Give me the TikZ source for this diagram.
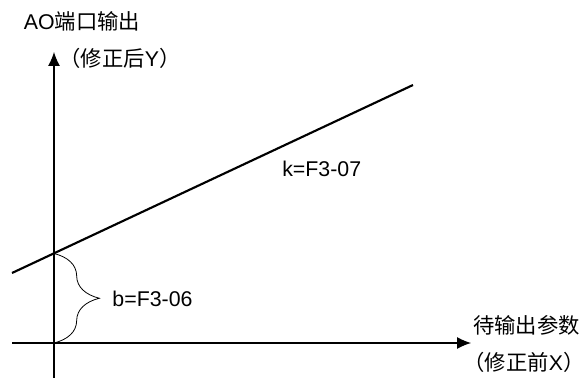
\documentclass[tikz,border=0pt]{standalone}
\usepackage{fontspec}
\setmainfont{Liberation Sans}
\newfontfamily\cjk{Noto Sans CJK SC}
\usepackage{tikz}
\usetikzlibrary{arrows.meta,positioning,calc,decorations.pathreplacing}
\newcommand{\zh}[1]{{\cjk #1}}

\begin{document}
\begin{tikzpicture}[x=0.75pt,y=-0.75pt,every node/.style={font=\fontsize{16}{19}\selectfont,inner sep=0pt}]
  \useasboundingbox (0,0) rectangle (586,378);
  % axes
  \coordinate (O) at (54,343);
  \coordinate (ytop) at (54,52);
  \coordinate (ybot) at (54,378);
  \coordinate (xleft) at (12,343);
  \coordinate (xright) at (471,343);
  \draw[line width=0.8pt,-{Latex[length=10.5pt,width=9pt]}] (ybot) -- (ytop);
  \draw[line width=0.8pt,-{Latex[length=10.5pt,width=9pt]}] (xleft) -- (xright);
  % correction line
  \coordinate (A) at (12,273);
  \coordinate (B) at (413,85);
  \coordinate (b0) at (54,253.5);
  \draw[line width=1.6pt] (A) -- (B);
  \draw[line width=0.6pt,decorate,decoration={brace,amplitude=34pt}] (b0) -- (O);
  % labels
  \node (yname) at (82,21) {AO\zh{端口输出}};
  \node (yunit) at (120,58) {\zh{（修正后}Y\zh{）}};
  \node (xname) at (526.5,325) {\zh{待输出参数}};
  \node (xunit) at (524,362) {\zh{（修正前}X\zh{）}};
  \node (k) at (321.7,169) {k=F3-07};
  \node (b) at (152.5,299) {b=F3-06};
\end{tikzpicture}
\end{document}
